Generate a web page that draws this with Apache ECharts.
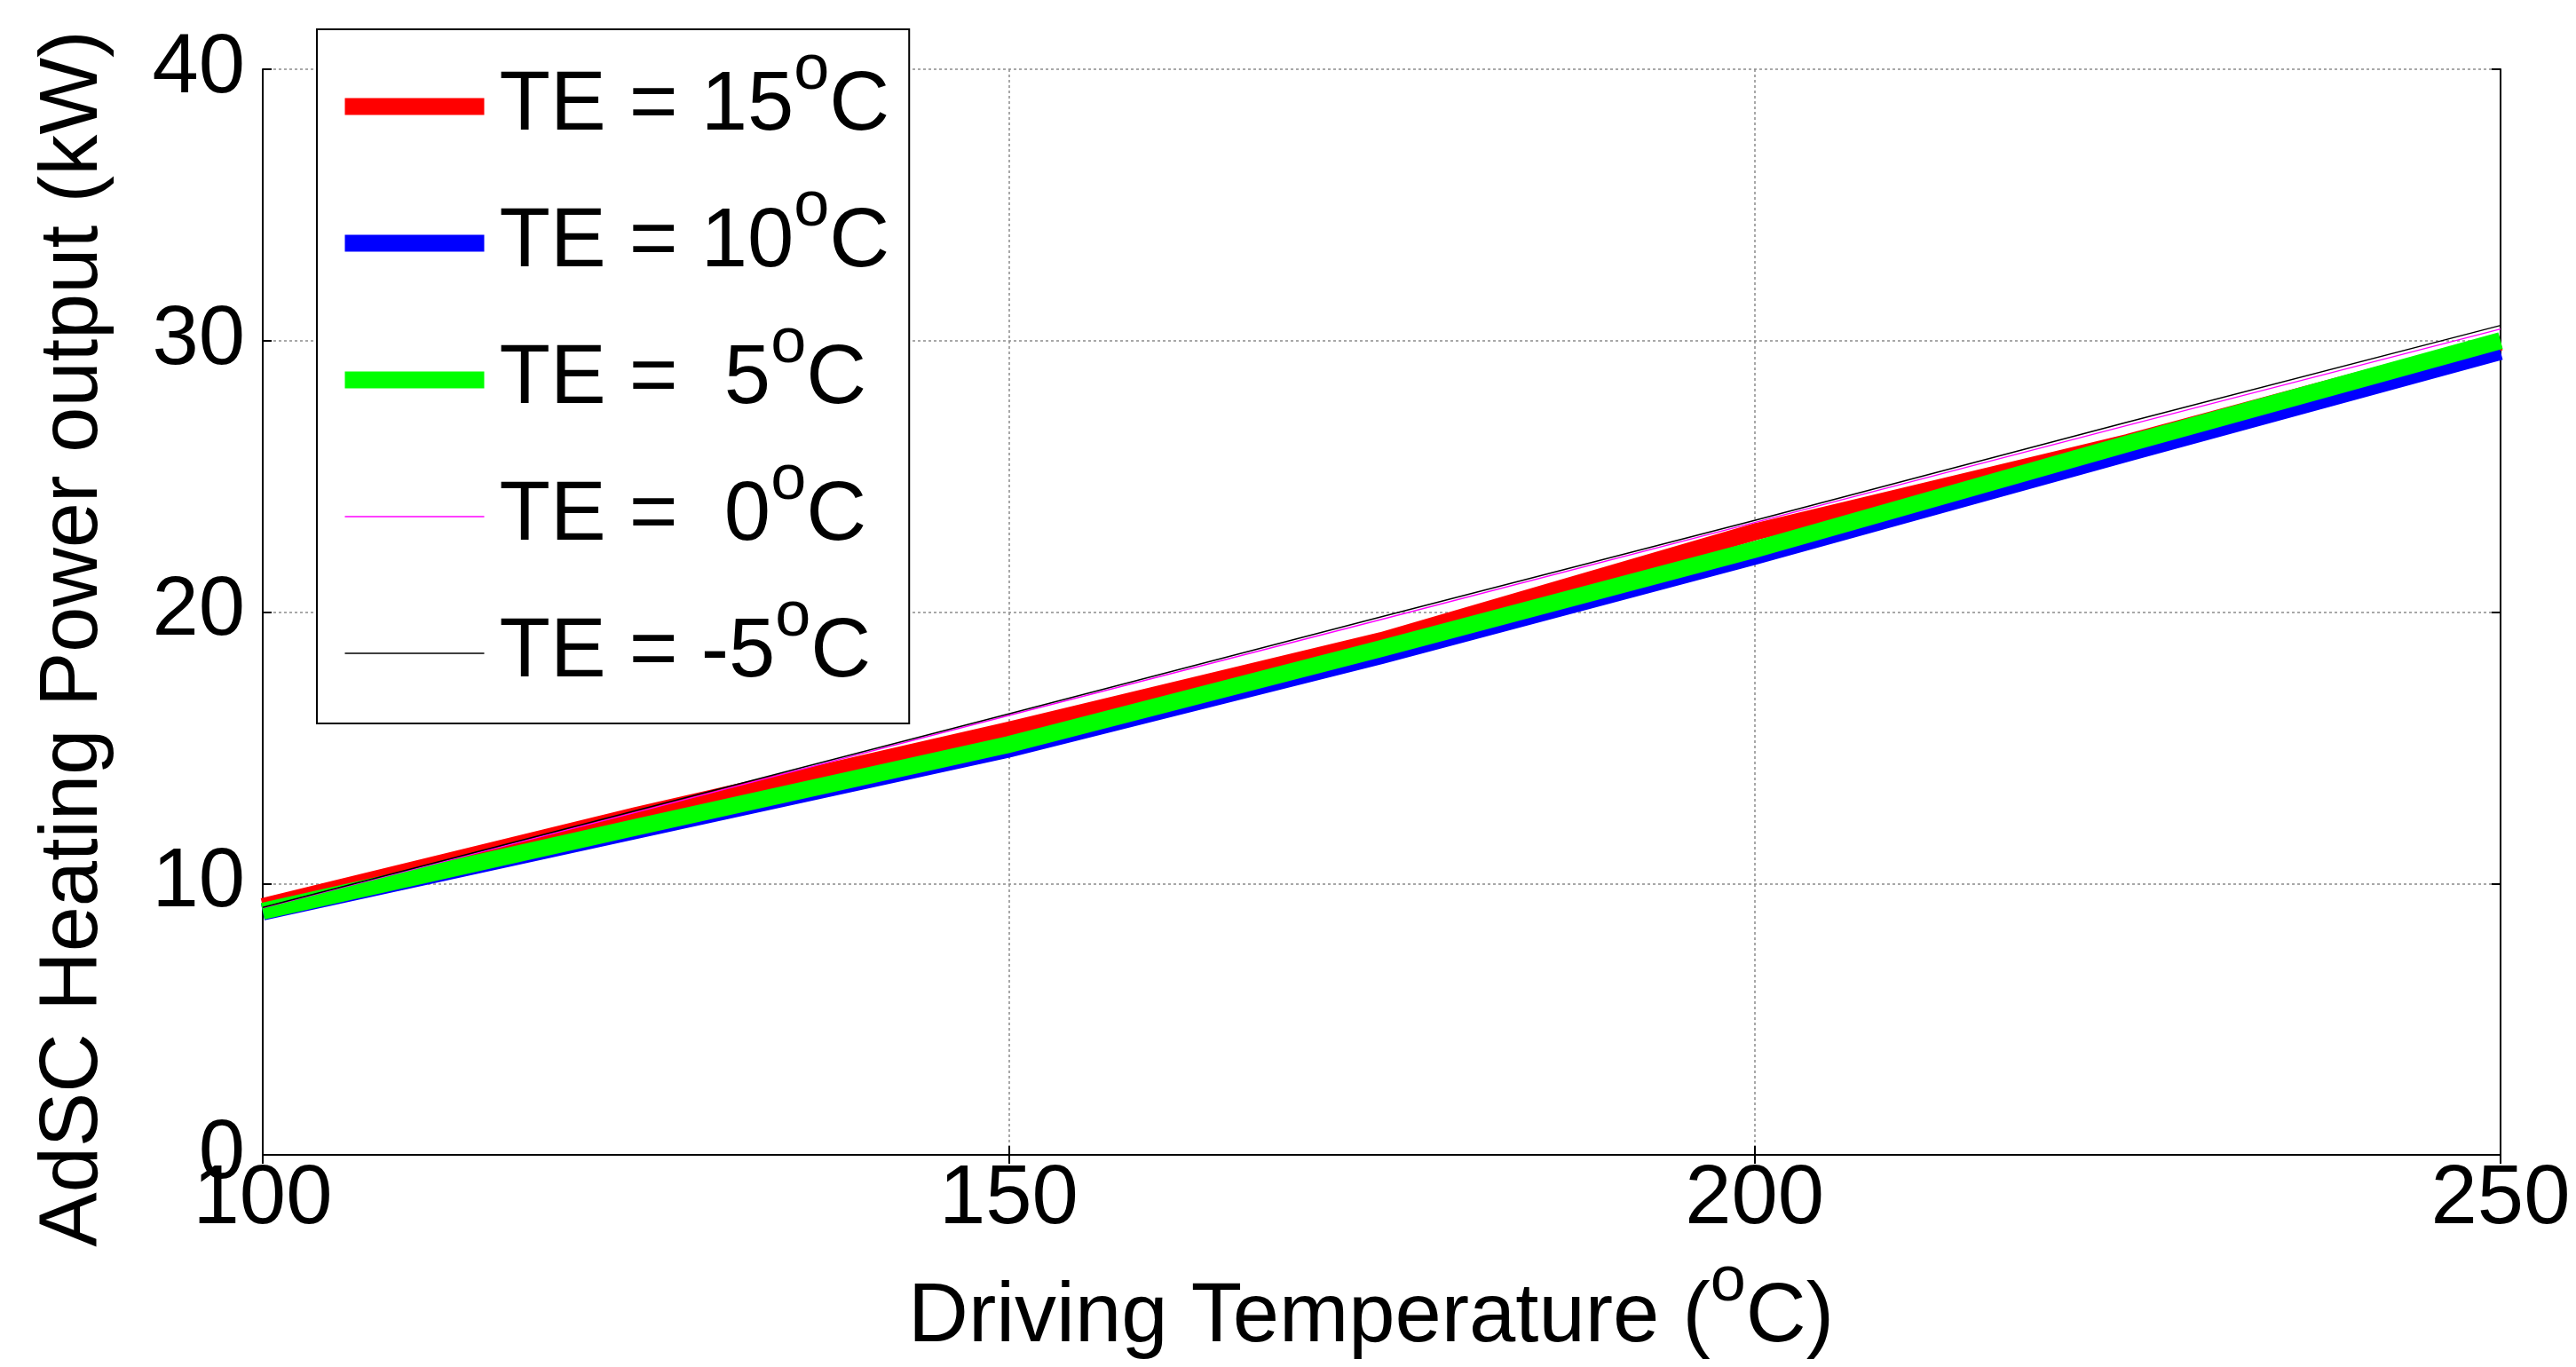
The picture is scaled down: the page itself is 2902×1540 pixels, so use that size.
<!DOCTYPE html>
<html>
<head>
<meta charset="utf-8">
<script src="https://cdn.jsdelivr.net/npm/echarts@6/dist/echarts.min.js"></script>
<style>
html, body { margin: 0; padding: 0; background: #fff; }
#chart { width: 2902px; height: 1540px; }
</style>
</head>
<body>
<div id="chart"></div>
<script>
// driving temperature (oC)
var drivingTemp = [100, 125, 150, 175, 200, 225, 250];

// heating power output (kW), one list per evaporator temperature
var te15 = [9.15, 12.5, 15.65, 18.95, 22.95, 26.25, 29.95];
var te10 = [8.95, 11.95, 14.95, 18.4, 22.05, 25.85, 29.6];
var te5 = [8.98, 12.07, 15.12, 18.66, 22.3, 26.2, 30.0];
var te0 = [9.1, 12.62, 16.19, 19.73, 23.3, 26.88, 30.43];
var teMinus5 = [9.12, 12.68, 16.25, 19.83, 23.38, 27.0, 30.56];

var seriesNames = ['TE = 15oC', 'TE = 10oC', 'TE =  5oC', 'TE =  0oC', 'TE = -5oC'];
var seriesValues = [te15, te10, te5, te0, teMinus5];
var seriesColors = ['#ff0000', '#0000ff', '#00ff00', '#ff00ff', '#000000'];
var seriesWidths = [19, 19, 19, 1.5, 1.5];

var xTicks = [100, 150, 200, 250];
var yTicks = [0, 10, 20, 30, 40];

var FONT = "'Liberation Sans', Arial, Helvetica, sans-serif";

// superscript o, lifted above the cap line like the matlab ^o
var supStyle = {
    fontSize: 72,
    lineHeight: 72,
    fontFamily: FONT,
    color: '#000',
    padding: [0, 0, 80, 0]
};

function supText(s) {
    return s.replace('oC', '{sup|o}C');
}

function pairs(xs, ys) {
    var out = [];
    for (var i = 0; i < xs.length; i++) {
        out.push([xs[i], ys[i]]);
    }
    return out;
}

var series = [];
var legendData = [];
for (var i = 0; i < seriesNames.length; i++) {
    series.push({
        name: seriesNames[i],
        type: 'line',
        symbol: 'none',
        data: pairs(drivingTemp, seriesValues[i]),
        lineStyle: { color: seriesColors[i], width: seriesWidths[i], cap: 'butt', join: 'miter' },
        itemStyle: { color: seriesColors[i] },
        emphasis: { disabled: true },
        z: 2 + i
    });
    legendData.push({
        name: seriesNames[i],
        lineStyle: { width: seriesWidths[i] },
        itemStyle: { opacity: 0 }
    });
}

var tickStyle = { show: true, inside: true, length: 10, lineStyle: { color: '#000', width: 2 } };
var lineStyleAxis = { show: true, lineStyle: { color: '#000', width: 2 } };
var gridLine = { show: true, lineStyle: { color: '#8c8c8c', width: 1.5, type: [3, 3] } };

var chart = echarts.init(document.getElementById('chart'), null, { renderer: 'canvas' });
chart.setOption({
    animation: false,
    backgroundColor: '#fff',
    // fixed plot box, labels are allowed to sit where they fall
    grid: { left: 296, right: 85, top: 78, bottom: 239, containLabel: false, outerBoundsMode: 'none' },
    legend: {
        orient: 'vertical',
        left: 357,
        top: 33,
        padding: [10, 22, 2, 22],
        itemGap: 0,
        itemWidth: 157,
        itemHeight: 19,
        backgroundColor: '#fff',
        borderColor: '#000',
        borderWidth: 2,
        selectedMode: false,
        data: legendData,
        formatter: function (name) {
            return supText(name);
        },
        textStyle: {
            fontSize: 94,
            lineHeight: 154,
            fontFamily: FONT,
            color: '#000',
            padding: [0, 0, 0, 12],
            rich: { sup: supStyle }
        },
        z: 10
    },
    xAxis: [{
        type: 'value',
        position: 'bottom',
        min: xTicks[0],
        max: xTicks[xTicks.length - 1],
        interval: 50,
        axisLine: lineStyleAxis,
        axisTick: tickStyle,
        splitLine: gridLine,
        axisLabel: { fontSize: 94, fontFamily: FONT, color: '#000', margin: 4 },
        name: supText('Driving Temperature (oC)'),
        nameLocation: 'middle',
        nameGap: 108,
        nameTextStyle: {
            fontSize: 94, lineHeight: 152, fontFamily: FONT, color: '#000',
            padding: [0, 24, 0, 0],
            rich: { sup: supStyle }
        }
    }, {
        type: 'value',
        position: 'top',
        min: xTicks[0],
        max: xTicks[xTicks.length - 1],
        interval: 50,
        axisLine: lineStyleAxis,
        axisTick: tickStyle,
        splitLine: { show: false },
        axisLabel: { show: false }
    }],
    yAxis: [{
        type: 'value',
        position: 'left',
        min: yTicks[0],
        max: yTicks[yTicks.length - 1],
        interval: 10,
        axisLine: lineStyleAxis,
        axisTick: tickStyle,
        splitLine: gridLine,
        axisLabel: { fontSize: 94, fontFamily: FONT, color: '#000', margin: 20 },
        name: 'AdSC Heating Power output (kW)',
        nameLocation: 'middle',
        nameGap: 166,
        nameTextStyle: {
            fontSize: 92, fontFamily: FONT, color: '#000',
            padding: [0, 60, 0, 0]
        }
    }, {
        type: 'value',
        position: 'right',
        min: yTicks[0],
        max: yTicks[yTicks.length - 1],
        interval: 10,
        axisLine: lineStyleAxis,
        axisTick: tickStyle,
        splitLine: { show: false },
        axisLabel: { show: false }
    }],
    series: series
});
</script>
</body>
</html>
